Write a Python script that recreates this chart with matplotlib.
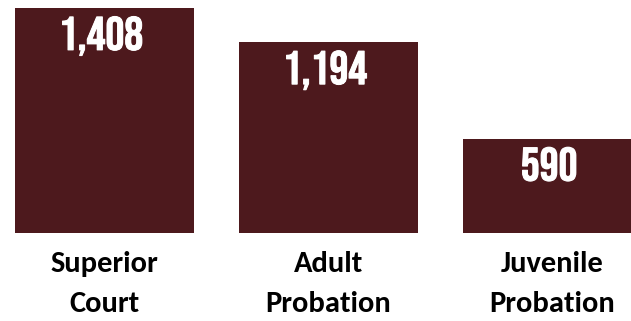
import matplotlib.pyplot as plt
import matplotlib.patheffects as pe
from matplotlib.transforms import blended_transform_factory

categories = ["Superior\nCourt", "Adult\nProbation", "Juvenile\nProbation"]
values = [1408, 1194, 590]
value_labels = ["1,408", "1,194", "590"]

bar_color = "#4d191d"

fig = plt.figure(figsize=(6.31, 3.21), dpi=100)
ax = fig.add_axes([0, 88 / 321, 1, 233 / 321])

x = list(range(len(values)))
ax.bar(x, values, width=0.8, color=bar_color)
ax.set_xlim(-0.4665, 2.3504)
ax.set_ylim(0, 1458)
ax.axis("off")

# value labels inside bars (condensed display font)
for xi, v, lab in zip(x, values, value_labels):
    ax.annotate(lab, (xi, v), xytext=(-2.5, -30.2), textcoords="offset points",
                ha="center", va="baseline", color="white", fontsize=34,
                family=["Bebas Neue", "Oswald", "Barlow Condensed", "DejaVu Sans"],
                path_effects=[pe.withStroke(linewidth=0.7, foreground="white")])

# category labels below bars (va=baseline -> last line's baseline)
trans = blended_transform_factory(ax.transData, ax.transAxes)
for xi, cat in zip(x, categories):
    ax.annotate(cat, (xi, 0), xycoords=trans, xytext=(0, -56.9),
                textcoords="offset points", ha="center", va="baseline",
                fontsize=22, fontweight="bold", linespacing=1.65,
                family=["Carlito", "Lato", "DejaVu Sans"])

fig.savefig("out.png", dpi=100)
